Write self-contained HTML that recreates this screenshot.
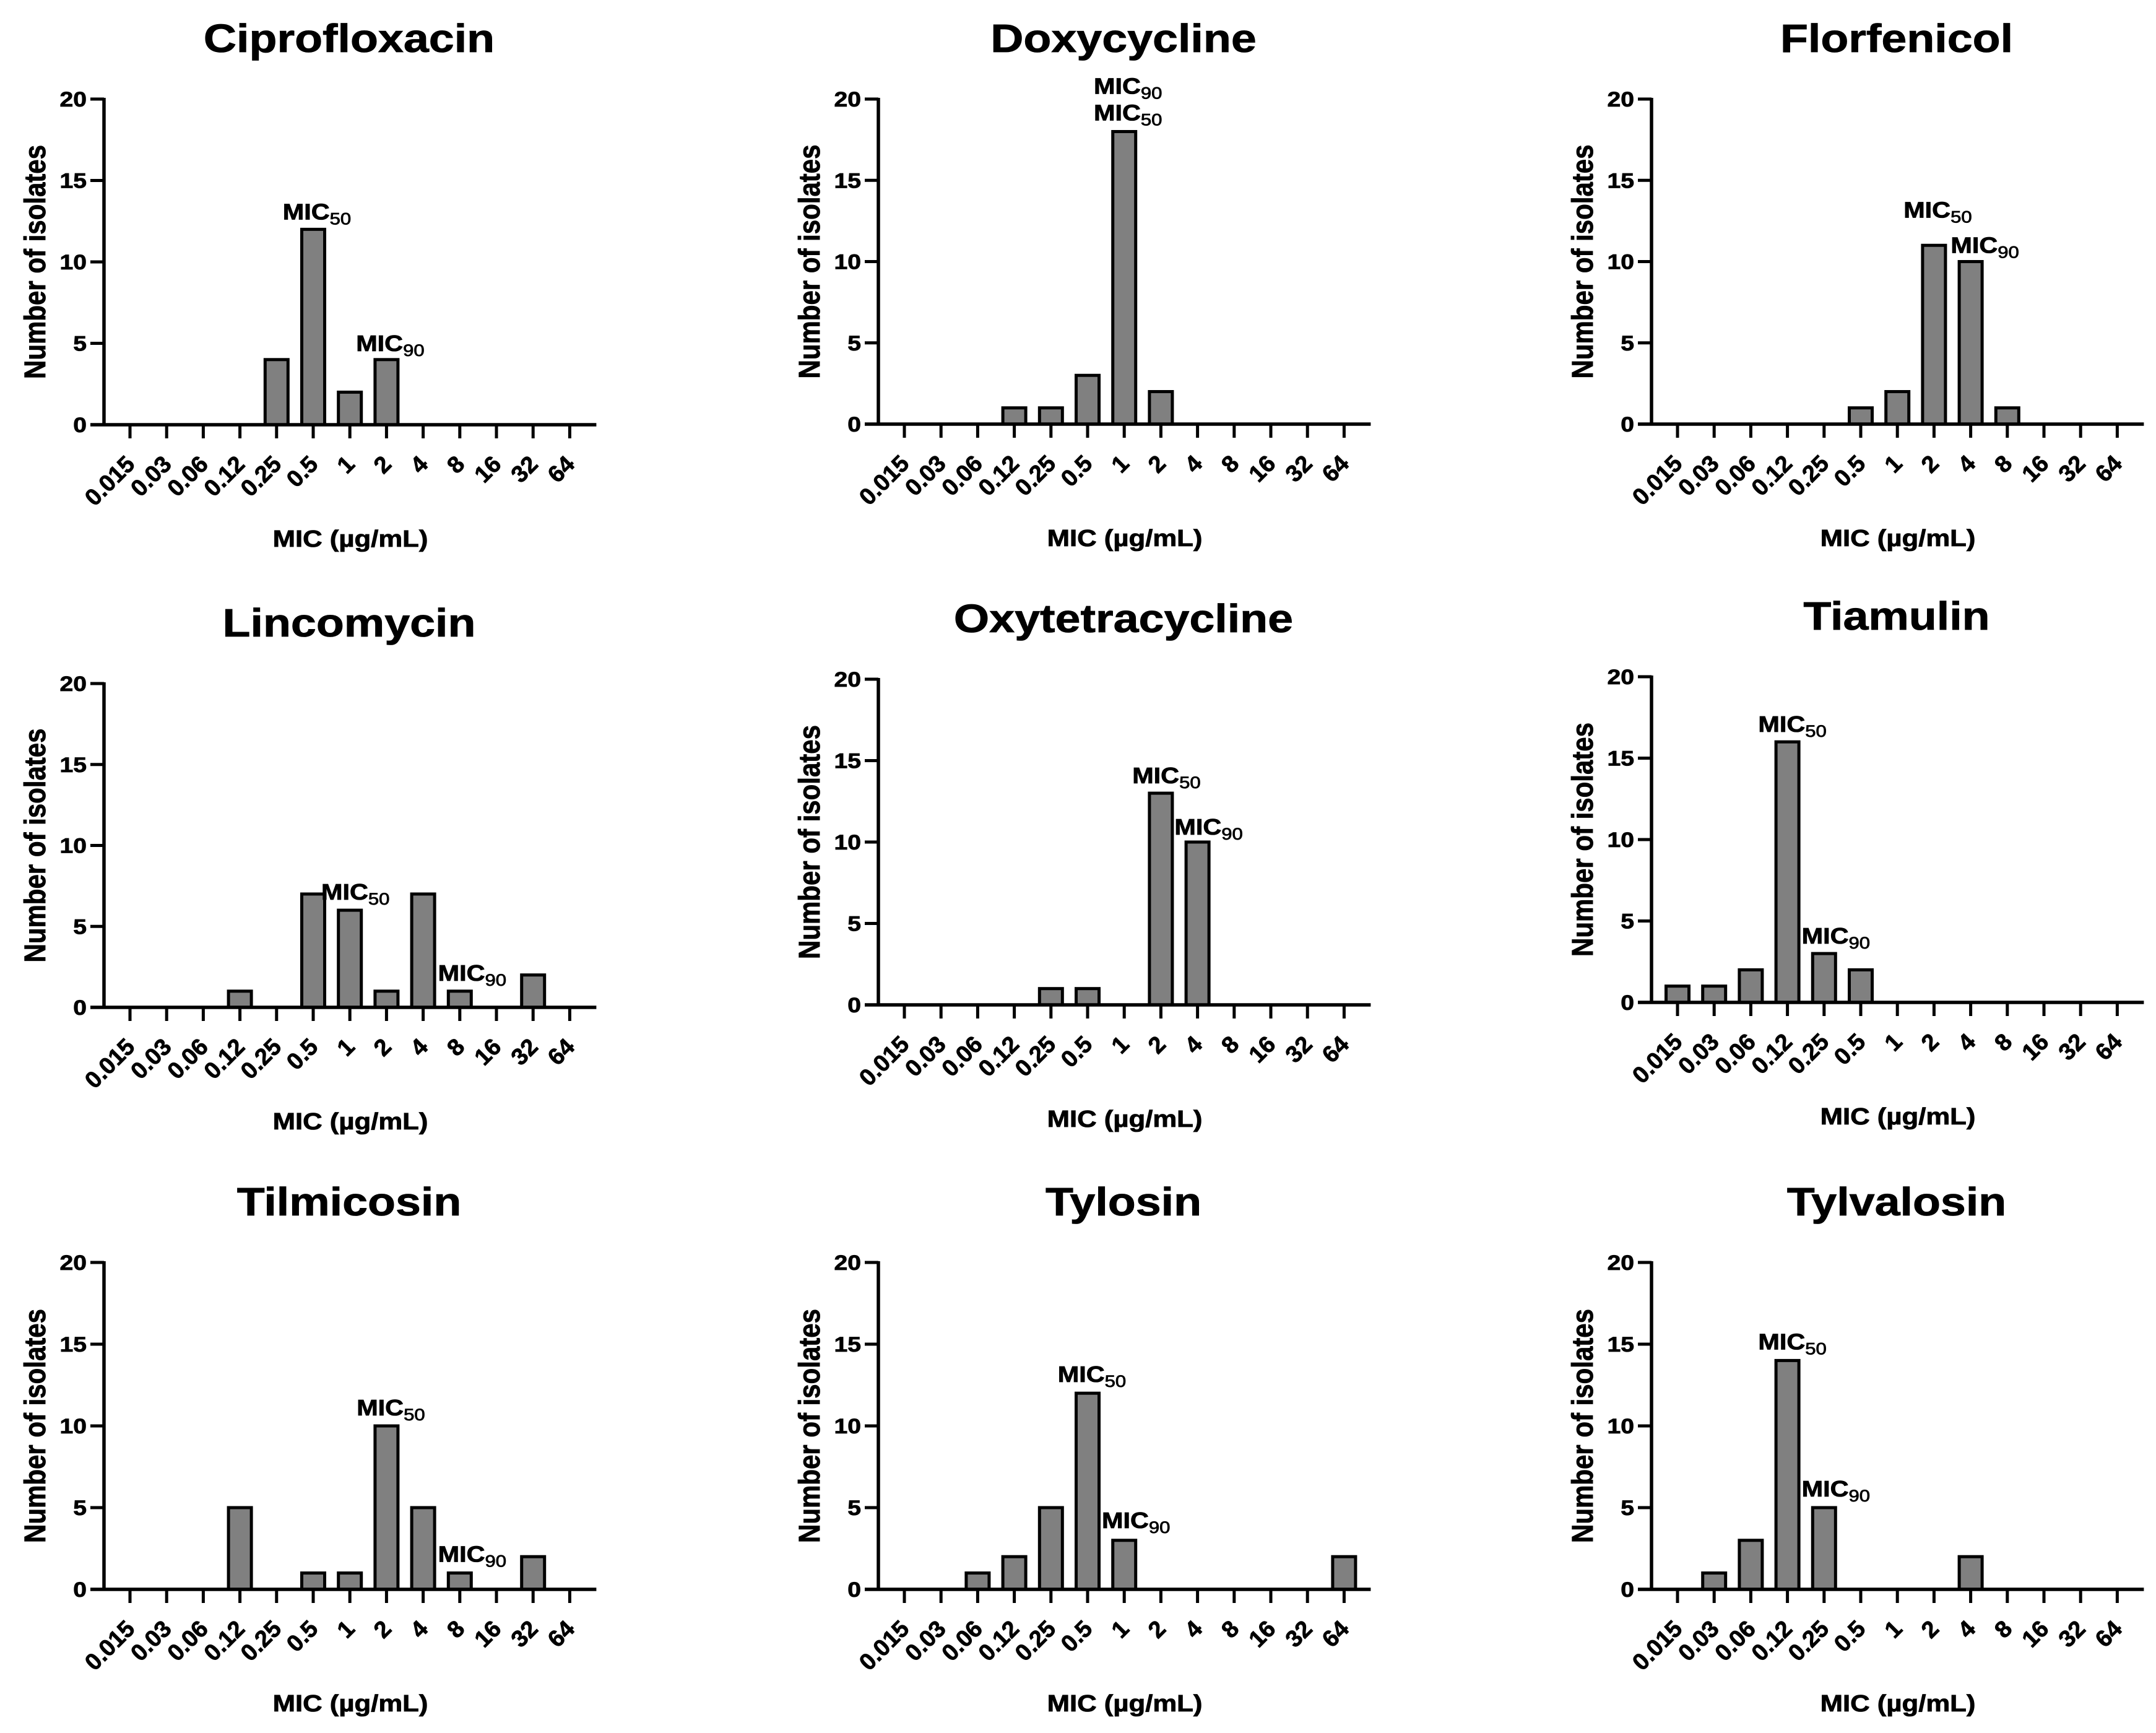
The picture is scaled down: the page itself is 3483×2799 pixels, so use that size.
<!DOCTYPE html>
<html><head><meta charset="utf-8"><style>
html,body{margin:0;padding:0;background:#fff;}
svg{display:block;font-family:"Liberation Sans",Arial,sans-serif;font-weight:bold;}
svg text{stroke:#000;stroke-width:0.8px;}
</style></head><body>
<svg id="fig" width="3483" height="2799" viewBox="0 0 3483 2799" xmlns="http://www.w3.org/2000/svg"></svg>
<script>
const categories = ["0.015","0.03","0.06","0.12","0.25","0.5","1","2","4","8","16","32","64"];
const yTicks = [0,5,10,15,20];
const titles = ["Ciprofloxacin","Doxycycline","Florfenicol","Lincomycin","Oxytetracycline","Tiamulin","Tilmicosin","Tylosin","Tylvalosin"];
const ciprofloxacin   = [0,0,0,0,4,12,2,4,0,0,0,0,0];
const doxycycline     = [0,0,0,1,1,3,18,2,0,0,0,0,0];
const florfenicol     = [0,0,0,0,0,1,2,11,10,1,0,0,0];
const lincomycin      = [0,0,0,1,0,7,6,1,7,1,0,2,0];
const oxytetracycline = [0,0,0,0,1,1,0,13,10,0,0,0,0];
const tiamulin        = [1,1,2,16,3,2,0,0,0,0,0,0,0];
const tilmicosin      = [0,0,0,5,0,1,1,10,5,1,0,2,0];
const tylosin         = [0,0,1,2,5,12,3,0,0,0,0,0,2];
const tylvalosin      = [0,1,3,14,5,0,0,0,2,0,0,0,0];
const seriesList = [ciprofloxacin,doxycycline,florfenicol,lincomycin,oxytetracycline,tiamulin,tilmicosin,tylosin,tylvalosin];
// MIC50 / MIC90 category index per panel
const mic50Index = [5,6,7,6,7,3,7,5,3];
const mic90Index = [7,6,8,9,8,4,9,6,4];

// layout (not data)
const colX = [168,1419,2668];
const rowGeom = [[[686,160],[685,160],[685,160]],[[1627,1104],[1623,1097],[1619,1093]],[[2567,2039],[2567,2039],[2567,2039]]];
const labelOffsets = [
 [[6,-16],[6,-14]],[[6,-18],[6,-61]],[[6,-45],[23,-14]],
 [[9,-17],[20,-17]],[[9,-16],[18,-12]],[[8,-16],[19,-16]],
 [[7,-17],[20,-18]],[[7,-18],[19,-20]],[[8,-18],[19,-18]]];

const NS="http://www.w3.org/2000/svg";
const svg=document.getElementById('fig');
function mk(tag,attrs,parent){const e=document.createElementNS(NS,tag);for(const k in attrs)e.setAttribute(k,attrs[k]);(parent||svg).appendChild(e);return e;}
const SX=1.15;

for(let p=0;p<9;p++){
  const r=Math.floor(p/3), c=p%3;
  const ax=colX[c], y0=rowGeom[r][c][0], y20=rowGeom[r][c][1];
  const step=59.2, firstTick=ax+42, axisEnd=ax+42+12*step+43;
  const xS=i=>firstTick+i*step;
  const yS=v=>y0-(v/20)*(y0-y20);
  const g=mk('g',{});
  
  
  const t=mk('text',{transform:`translate(${ax+396},${y20-76}) scale(${SX},1)`,'text-anchor':'middle','font-size':64},g);
  t.textContent=titles[p];
  
  
  const vals=seriesList[p];
  vals.forEach((v,i)=>{ if(v<=0)return;
    const b=mk('rect',{x:xS(i)-18.5,y:yS(v),width:37,height:y0-yS(v),fill:'#808080',stroke:'#000','stroke-width':5},g);
    
    
  });
  const ya=mk('line',{x1:ax,y1:y20-2,x2:ax,y2:y0+2.5,stroke:'#000','stroke-width':5.5},g);
  
  
  const xa=mk('line',{x1:ax-22,y1:y0,x2:axisEnd,y2:y0,stroke:'#000','stroke-width':5.5},g);
  
  
  yTicks.forEach(v=>{
    const y=yS(v);
    if(v>0) mk('line',{x1:ax-22,y1:y,x2:ax,y2:y,stroke:'#000','stroke-width':5},g);
    const tl=mk('text',{transform:`translate(${ax-28},${y+12}) scale(${SX},1)`,'text-anchor':'end','font-size':34},g);
    tl.textContent=v;
    
    
  });
  categories.forEach((cat,i)=>{
    const x=xS(i);
    mk('line',{x1:x,y1:y0,x2:x,y2:y0+22,stroke:'#000','stroke-width':5},g);
    const tl=mk('text',{transform:`translate(${x+10},${y0+66}) rotate(-45)`,'text-anchor':'end','font-size':38},g);
    tl.textContent=cat;
    
    
  });
  const xt=mk('text',{transform:`translate(${ax+398},${y0+197}) scale(${SX},1)`,'text-anchor':'middle','font-size':38},g);
  xt.textContent='MIC (µg/mL)';
  
  
  const yt=mk('text',{transform:`translate(${ax-95},${(y0+y20)/2}) scale(${SX},1) rotate(-90)`,'text-anchor':'middle','font-size':42},g);
  yt.textContent='Number of isolates';
  
  
  [[mic50Index[p],'50'],[mic90Index[p],'90']].forEach((m,k)=>{
    const idx=m[0], off=labelOffsets[p][k];
    const lx=xS(idx)+off[0], ly=yS(vals[idx])+off[1];
    const lt=mk('text',{transform:`translate(${lx},${ly}) scale(${SX},1)`,'text-anchor':'middle','font-size':36},g);
    lt.appendChild(document.createTextNode('MIC'));
    const sub=mk('tspan',{'font-size':27,dy:8,'font-weight':'normal'},lt);
    sub.textContent=m[1];
    
    
  });
}
</script>
</body></html>
